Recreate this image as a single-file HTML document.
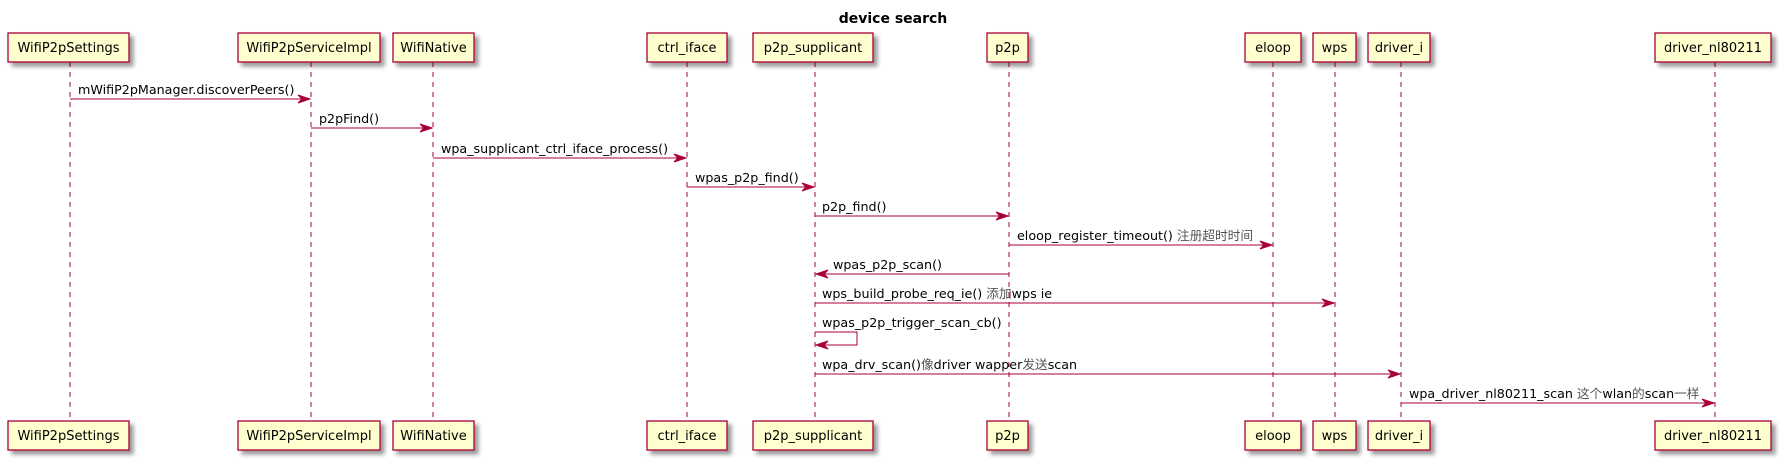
<!DOCTYPE html>
<html><head><meta charset="utf-8"><style>
html,body{margin:0;padding:0;background:#fff;}
svg{display:block;}
text{font-family:"DejaVu Sans","Liberation Sans","Noto Sans CJK SC",sans-serif;}
.m{font-size:12.7px;fill:#000;}
.p{font-size:13px;fill:#000;}
</style></head><body>
<svg width="1782" height="462" viewBox="0 0 1782 462" xmlns="http://www.w3.org/2000/svg">
<defs>
<filter id="sh" x="-20%" y="-20%" width="150%" height="180%"><feGaussianBlur in="SourceAlpha" stdDeviation="2"/><feOffset dx="4" dy="4"/><feComponentTransfer><feFuncA type="linear" slope="0.4"/></feComponentTransfer><feMerge><feMergeNode/><feMergeNode in="SourceGraphic"/></feMerge></filter>
</defs>
<text x="893" y="23" text-anchor="middle" style="font-size:14px;font-weight:bold;">device search</text>
<g stroke="#A80036" stroke-width="1" stroke-dasharray="5,5">
<line x1="70" y1="62" x2="70" y2="421"/>
<line x1="311" y1="62" x2="311" y2="421"/>
<line x1="433" y1="62" x2="433" y2="421"/>
<line x1="687" y1="62" x2="687" y2="421"/>
<line x1="815" y1="62" x2="815" y2="421"/>
<line x1="1009" y1="62" x2="1009" y2="421"/>
<line x1="1273" y1="62" x2="1273" y2="421"/>
<line x1="1335" y1="62" x2="1335" y2="421"/>
<line x1="1401" y1="62" x2="1401" y2="421"/>
<line x1="1715" y1="62" x2="1715" y2="421"/>
</g>
<g fill="#FEFECE" stroke="#A80036" stroke-width="1.3" filter="url(#sh)">
<rect x="8" y="33" width="121" height="29"/><rect x="8" y="421" width="121" height="29"/>
<rect x="238" y="33" width="142" height="29"/><rect x="238" y="421" width="142" height="29"/>
<rect x="393" y="33" width="81" height="29"/><rect x="393" y="421" width="81" height="29"/>
<rect x="647" y="33" width="80" height="29"/><rect x="647" y="421" width="80" height="29"/>
<rect x="753" y="33" width="120" height="29"/><rect x="753" y="421" width="120" height="29"/>
<rect x="987" y="33" width="41" height="29"/><rect x="987" y="421" width="41" height="29"/>
<rect x="1245" y="33" width="56" height="29"/><rect x="1245" y="421" width="56" height="29"/>
<rect x="1313" y="33" width="43" height="29"/><rect x="1313" y="421" width="43" height="29"/>
<rect x="1368" y="33" width="62" height="29"/><rect x="1368" y="421" width="62" height="29"/>
<rect x="1655" y="33" width="116" height="29"/><rect x="1655" y="421" width="116" height="29"/>
</g>
<g class="p" text-anchor="middle">
<text x="68.5" y="52">WifiP2pSettings</text><text x="68.5" y="440">WifiP2pSettings</text>
<text x="309" y="52">WifiP2pServiceImpl</text><text x="309" y="440">WifiP2pServiceImpl</text>
<text x="433.5" y="52">WifiNative</text><text x="433.5" y="440">WifiNative</text>
<text x="687" y="52">ctrl_iface</text><text x="687" y="440">ctrl_iface</text>
<text x="813" y="52">p2p_supplicant</text><text x="813" y="440">p2p_supplicant</text>
<text x="1007.5" y="52">p2p</text><text x="1007.5" y="440">p2p</text>
<text x="1273" y="52">eloop</text><text x="1273" y="440">eloop</text>
<text x="1334.5" y="52">wps</text><text x="1334.5" y="440">wps</text>
<text x="1399" y="52">driver_i</text><text x="1399" y="440">driver_i</text>
<text x="1713" y="52">driver_nl80211</text><text x="1713" y="440">driver_nl80211</text>
</g>
<g stroke="#A80036" stroke-width="1" fill="none">
<line x1="70" y1="99" x2="310" y2="99"/>
<line x1="311" y1="128" x2="432" y2="128"/>
<line x1="433" y1="158" x2="686" y2="158"/>
<line x1="687" y1="187" x2="814" y2="187"/>
<line x1="815" y1="216" x2="1008" y2="216"/>
<line x1="1009" y1="245" x2="1272" y2="245"/>
<line x1="816" y1="274" x2="1009" y2="274"/>
<line x1="815" y1="303" x2="1334" y2="303"/>
<polyline points="815,332 857,332 857,345 816,345"/>
<line x1="815" y1="374" x2="1400" y2="374"/>
<line x1="1401" y1="403" x2="1714" y2="403"/>
</g>
<g fill="#A80036" stroke="#A80036" stroke-width="1">
<polygon points="298,95 310,99 298,103 302,99"/>
<polygon points="420,124 432,128 420,132 424,128"/>
<polygon points="674,154 686,158 674,162 678,158"/>
<polygon points="802,183 814,187 802,191 806,187"/>
<polygon points="996,212 1008,216 996,220 1000,216"/>
<polygon points="1260,241 1272,245 1260,249 1264,245"/>
<polygon points="828,270 816,274 828,278 824,274"/>
<polygon points="1322,299 1334,303 1322,307 1326,303"/>
<polygon points="828,341 816,345 828,349 824,345"/>
<polygon points="1388,370 1400,374 1388,378 1392,374"/>
<polygon points="1702,399 1714,403 1702,407 1706,403"/>
</g>
<g class="m">
<text x="78" y="94">mWifiP2pManager.discoverPeers()</text>
<text x="319" y="123">p2pFind()</text>
<text x="441" y="153">wpa_supplicant_ctrl_iface_process()</text>
<text x="695" y="182">wpas_p2p_find()</text>
<text x="822" y="211">p2p_find()</text>
<text x="1017" y="240">eloop_register_timeout() <tspan fill="#555">注册超时时间</tspan></text>
<text x="833" y="269">wpas_p2p_scan()</text>
<text x="822" y="298">wps_build_probe_req_ie() <tspan fill="#555">添加</tspan>wps ie</text>
<text x="822" y="327">wpas_p2p_trigger_scan_cb()</text>
<text x="822" y="369">wpa_drv_scan()<tspan fill="#555">像</tspan>driver wapper<tspan fill="#555">发送</tspan>scan</text>
<text x="1409" y="398">wpa_driver_nl80211_scan <tspan fill="#555">这个</tspan>wlan<tspan fill="#555">的</tspan>scan<tspan fill="#555">一样</tspan></text>
</g>
</svg>
</body></html>
